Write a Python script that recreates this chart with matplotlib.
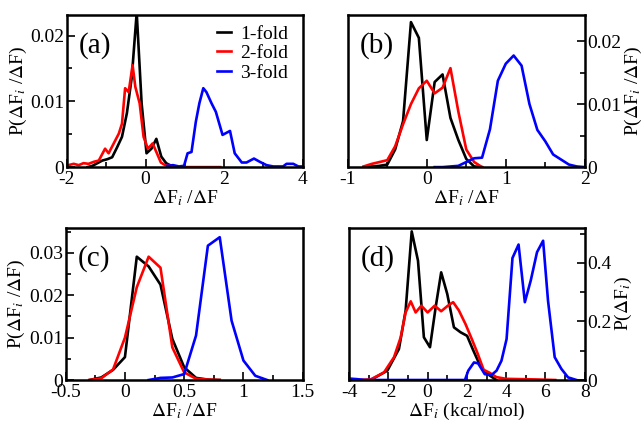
import numpy as np
import matplotlib
matplotlib.use("Agg")
import matplotlib.pyplot as plt
from matplotlib.ticker import MultipleLocator, FormatStrFormatter

plt.rcParams['font.family'] = ['Liberation Serif', 'DejaVu Serif']
plt.rcParams['mathtext.fontset'] = 'stix'
plt.rcParams['axes.unicode_minus'] = False

# ---- panel (a) ----
a1_x = [-1.475, -1.35, -1.225, -1.1, -0.975, -0.85, -0.725, -0.6, -0.475, -0.35, -0.225,
        -0.1, 0.025, 0.15, 0.275, 0.4, 0.525, 0.65, 0.775]
a1_y = [0.0, 0.0002, 0.0006, 0.001, 0.0012, 0.0015, 0.003, 0.0046, 0.0082, 0.0137, 0.0235,
        0.0097, 0.0021, 0.0028, 0.0043, 0.0016, 0.0006, 0.0002, 0.0]
a2_x = [-1.96, -1.83, -1.70, -1.58, -1.45, -1.32, -1.19, -1.03, -0.94, -0.81, -0.68, -0.60,
        -0.52, -0.43, -0.33, -0.26, -0.15, -0.05, 0.06, 0.18, 0.29, 0.39, 0.5, 0.62, 0.75,
        0.9, 1.3, 1.9]
a2_y = [0.0003, 0.0005, 0.0003, 0.0006, 0.0005, 0.0008, 0.001, 0.0028, 0.0021, 0.0036,
        0.0051, 0.0066, 0.012, 0.0114, 0.0155, 0.0122, 0.0097, 0.0046, 0.0028, 0.0036,
        0.0021, 0.0007, 0.0003, 0.0003, 0.0001, 0.0, 0.0, 0.0]
a3_x = [0.55, 0.7, 0.85, 0.98, 1.07, 1.17, 1.28, 1.37, 1.47, 1.55, 1.68, 1.79, 1.96, 2.15,
        2.27, 2.45, 2.57, 2.76, 2.91, 3.08, 3.25, 3.5, 3.59, 3.76, 3.89, 4.0]
a3_y = [0.0002, 0.0003, 0.0001, 0.0002, 0.0021, 0.0023, 0.0069, 0.0097, 0.012, 0.0114,
        0.0097, 0.0084, 0.0049, 0.0055, 0.0021, 0.0007, 0.0007, 0.0013, 0.0008, 0.0003,
        0.0001, 0.0001, 0.0005, 0.0005, 0.0001, 0.0001]

# ---- panel (b) ----
b1_x = [-0.8, -0.7, -0.6, -0.5, -0.4, -0.3, -0.2, -0.1, 0.0, 0.1, 0.2, 0.3, 0.4, 0.5, 0.6, 0.7]
b1_y = [0.0, 0.0001, 0.0002, 0.0004, 0.0028, 0.0073, 0.023, 0.0205, 0.0043, 0.0135, 0.0147,
        0.0078, 0.0043, 0.0013, 0.0001, 0.0]
b2_x = [-0.8, -0.7, -0.6, -0.5, -0.4, -0.3, -0.2, -0.1, 0.0, 0.1, 0.2, 0.3, 0.4, 0.5, 0.6, 0.7]
b2_y = [0.0001, 0.0005, 0.0008, 0.0011, 0.0033, 0.0068, 0.0100, 0.0125, 0.0137, 0.0117,
        0.0126, 0.0157, 0.0088, 0.0028, 0.0008, 0.0]
b3_x = [0.1, 0.2, 0.3, 0.4, 0.5, 0.6, 0.7, 0.8, 0.9, 1.0, 1.1, 1.2, 1.3, 1.4, 1.5, 1.6, 1.7,
        1.8, 1.9, 2.0]
b3_y = [0.0, 0.0, 0.0001, 0.0002, 0.0008, 0.0014, 0.0015, 0.006, 0.0137, 0.0164, 0.0177,
        0.0161, 0.0100, 0.0059, 0.0041, 0.002, 0.0012, 0.0004, 0.0001, 0.0]

# ---- panel (c) ----
c1_x = [-0.3, -0.2, -0.1, 0.0, 0.1, 0.2, 0.3, 0.4, 0.5, 0.6, 0.7, 0.8]
c1_y = [0.0, 0.0006, 0.0024, 0.0054, 0.0291, 0.0268, 0.0225, 0.0097, 0.003, 0.0005, 0.0001, 0.0]
c2_x = [-0.3, -0.2, -0.1, 0.0, 0.1, 0.2, 0.3, 0.4, 0.5, 0.6, 0.7, 0.8]
c2_y = [0.0, 0.0004, 0.0025, 0.0100, 0.0219, 0.0291, 0.0265, 0.0077, 0.0018, 0.0003, 0.0001, 0.0]
c3_x = [0.2, 0.3, 0.4, 0.5, 0.6, 0.7, 0.8, 0.9, 1.0, 1.1, 1.2]
c3_y = [0.0, 0.0005, 0.0006, 0.0014, 0.0105, 0.0317, 0.0337, 0.014, 0.0046, 0.001, 0.0]

# ---- panel (d) ----
d1_x = [-2.9, -2.05, -1.46, -1.12, -0.81, -0.49, -0.19, 0.12, 0.41, 0.69, 1.0, 1.34, 1.68,
        2.01, 2.3, 2.6, 2.88, 3.17, 3.5]
d1_y = [0.0, 0.032, 0.106, 0.237, 0.508, 0.408, 0.146, 0.112, 0.249, 0.368, 0.294, 0.18,
        0.163, 0.151, 0.105, 0.06, 0.03, 0.015, 0.0]
d2_x = [-3.9, -2.9, -2.22, -1.71, -1.37, -1.12, -0.86, -0.61, -0.32, 0.0, 0.36, 0.69, 1.03,
        1.30, 1.59, 1.93, 2.25, 2.55, 2.85, 3.15, 3.5, 4.0, 5.5, 6.5]
d2_y = [0.0, 0.002, 0.026, 0.078, 0.146, 0.231, 0.269, 0.231, 0.254, 0.231, 0.254, 0.235,
        0.254, 0.266, 0.238, 0.191, 0.14, 0.09, 0.035, 0.025, 0.01, 0.004, 0.002, 0.0]
d3_x = [-4.0, -3.6, -3.2, 1.9, 2.07, 2.36, 2.57, 2.91, 3.25, 3.51, 3.76, 4.02, 4.32, 4.63,
        4.95, 5.25, 5.57, 5.88, 6.13, 6.47, 6.81, 7.15, 7.58]
d3_y = [0.005, 0.003, 0.0, 0.0, 0.032, 0.06, 0.057, 0.02, 0.017, 0.032, 0.066, 0.14, 0.417,
        0.463, 0.266, 0.34, 0.437, 0.476, 0.271, 0.078, 0.038, 0.009, 0.0]

labels = ['1-fold', '2-fold', '3-fold']
colors = ['black', 'red', 'blue']
ratio_label = r'$\Delta$F$_i$ /$\Delta$F'
prob_label = r'P($\Delta$F$_i$ /$\Delta$F)'

fig = plt.figure(figsize=(6.44, 4.22), dpi=100)
boxes = {
    'a': [0.104, 0.604, 0.366, 0.360],
    'b': [0.540, 0.604, 0.368, 0.360],
    'c': [0.102, 0.0995, 0.368, 0.3605],
    'd': [0.542, 0.0995, 0.366, 0.3605],
}

panels = {
    'a': dict(data=[(a1_x, a1_y), (a2_x, a2_y), (a3_x, a3_y)], xlim=(-2, 4), ylim=(0, 0.0231),
              xmaj=2, xmin=1, ymaj=0.01, ymin=0.005, right=False,
              xlabel=ratio_label, ylabel=prob_label),
    'b': dict(data=[(b1_x, b1_y), (b2_x, b2_y), (b3_x, b3_y)], xlim=(-1, 2), ylim=(0, 0.0241),
              xmaj=1, xmin=0.5, ymaj=0.01, ymin=0.005, right=True,
              xlabel=ratio_label, ylabel=prob_label),
    'c': dict(data=[(c1_x, c1_y), (c2_x, c2_y), (c3_x, c3_y)], xlim=(-0.5, 1.5), ylim=(0, 0.0359),
              xmaj=0.5, xmin=0.25, ymaj=0.01, ymin=0.005, right=False,
              xlabel=ratio_label, ylabel=prob_label),
    'd': dict(data=[(d1_x, d1_y), (d2_x, d2_y), (d3_x, d3_y)], xlim=(-4, 8), ylim=(0, 0.52),
              xmaj=2, xmin=1, ymaj=0.2, ymin=0.1, right=True,
              xlabel=r'$\Delta$F$_i$ (kcal/mol)', ylabel=r'P($\Delta$F$_i$)'),
}

for key, p in panels.items():
    ax = fig.add_axes(boxes[key])
    for (x, y), c, lab in zip(p['data'], colors, labels):
        ax.plot(x, y, color=c, lw=1.9, label=lab)
    ax.set_xlim(*p['xlim'])
    ax.set_ylim(*p['ylim'])
    ax.xaxis.set_major_locator(MultipleLocator(p['xmaj']))
    ax.xaxis.set_minor_locator(MultipleLocator(p['xmin']))
    ax.yaxis.set_major_locator(MultipleLocator(p['ymaj']))
    ax.yaxis.set_minor_locator(MultipleLocator(p['ymin']))
    ax.xaxis.set_major_formatter(FormatStrFormatter('%g'))
    ax.yaxis.set_major_formatter(FormatStrFormatter('%g'))
    for s in ax.spines.values():
        s.set_linewidth(1.8)
    ax.tick_params(which='both', direction='in', width=1.2, labelsize=14)
    ax.tick_params(axis='x', pad=3)
    ax.tick_params(axis='y', pad=2)
    ax.tick_params(which='major', length=6)
    ax.tick_params(which='minor', length=3.5)
    if p['right']:
        ax.yaxis.tick_right()
        ax.yaxis.set_label_position('right')
    ax.set_xlabel(p['xlabel'], fontsize=14, labelpad=0)
    ax.set_ylabel(p['ylabel'], fontsize=14, labelpad=1)
    ax.text(0.05, 0.80, '(%s)' % key, transform=ax.transAxes, fontsize=21, va='center')
    if key == 'a':
        ax.legend(loc='upper right', frameon=False, fontsize=14, handlelength=0.75,
                  handletextpad=0.45, labelspacing=0.1, borderaxespad=0.1,
                  bbox_to_anchor=(0.98, 1.0))

fig.savefig('out.png', dpi=100)
